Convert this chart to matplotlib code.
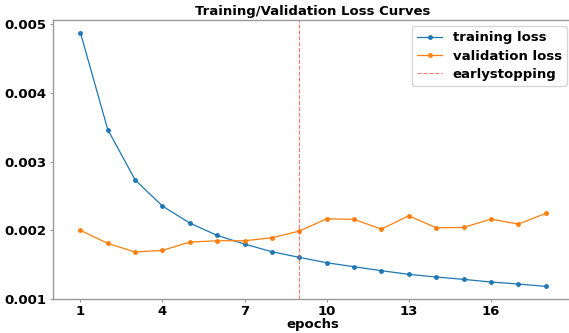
import matplotlib
matplotlib.use("Agg")
import matplotlib.pyplot as plt

epochs = list(range(1, 19))
training_loss = [0.00488, 0.003468, 0.002735, 0.002353, 0.002105, 0.001926, 0.0018, 0.001688,
                 0.001606, 0.001528, 0.00147, 0.001412, 0.001359, 0.00132, 0.001286, 0.001247,
                 0.001218, 0.001184]
validation_loss = [0.002, 0.00181, 0.001684, 0.001708, 0.001829, 0.001848, 0.001848, 0.001892,
                   0.001989, 0.002168, 0.002159, 0.002018, 0.002212, 0.002037, 0.002042, 0.002164,
                   0.002091, 0.002246]
early_stop_epoch = 9
xticks = [1, 4, 7, 10, 13, 16]
yticks = [0.001, 0.002, 0.003, 0.004, 0.005]

plt.rcParams['font.family'] = ['DejaVu Sans']
plt.rcParams['font.weight'] = 'bold'
FS = 9.5

fig = plt.figure(figsize=(5.69, 3.33), dpi=100)
W, H = 569, 333
ax = fig.add_axes([53 / W, 34 / H, 520 / W, 279.5 / H])

ax.plot(epochs, training_loss, marker='o', markersize=2.5, linewidth=0.9, color='#1f77b4',
        label='training loss')
ax.plot(epochs, validation_loss, marker='o', markersize=2.5, linewidth=0.9, color='#ff7f0e',
        label='validation loss')
ax.axvline(early_stop_epoch, color='#ff5555', linestyle='--', linewidth=0.8, alpha=0.8,
           label='earlystopping')

ax.set_xlim(0, 19)
ax.set_ylim(0.001, 0.00507)
ax.set_xticks(xticks)
ax.set_xticklabels([str(t) for t in xticks], fontsize=FS, fontweight='bold')
ax.set_yticks(yticks)
ax.set_yticklabels([f"{t:.3f}" for t in yticks], fontsize=FS, fontweight='bold')
ax.tick_params(axis='x', colors='#999999', labelcolor='black', length=2.5, width=0.8, pad=1.5)
ax.tick_params(axis='y', colors='#999999', labelcolor='black', length=2.5, width=0.8, pad=2)
for s in ax.spines.values():
    s.set_color('#999999')
    s.set_linewidth(1.0)

ax.set_xlabel('epochs', fontsize=FS, fontweight='bold', labelpad=0)
ax.set_title('Training/Validation Loss Curves', fontsize=FS, fontweight='bold', pad=3)
leg = ax.legend(loc='upper right', prop={'size': FS, 'weight': 'bold'}, handlelength=1.9,
                borderaxespad=0.0, labelspacing=0.4, borderpad=0.4)
leg.set_bbox_to_anchor((567 / W, (333 - 26) / H), transform=fig.transFigure)

fig.savefig('out.png', dpi=100)
